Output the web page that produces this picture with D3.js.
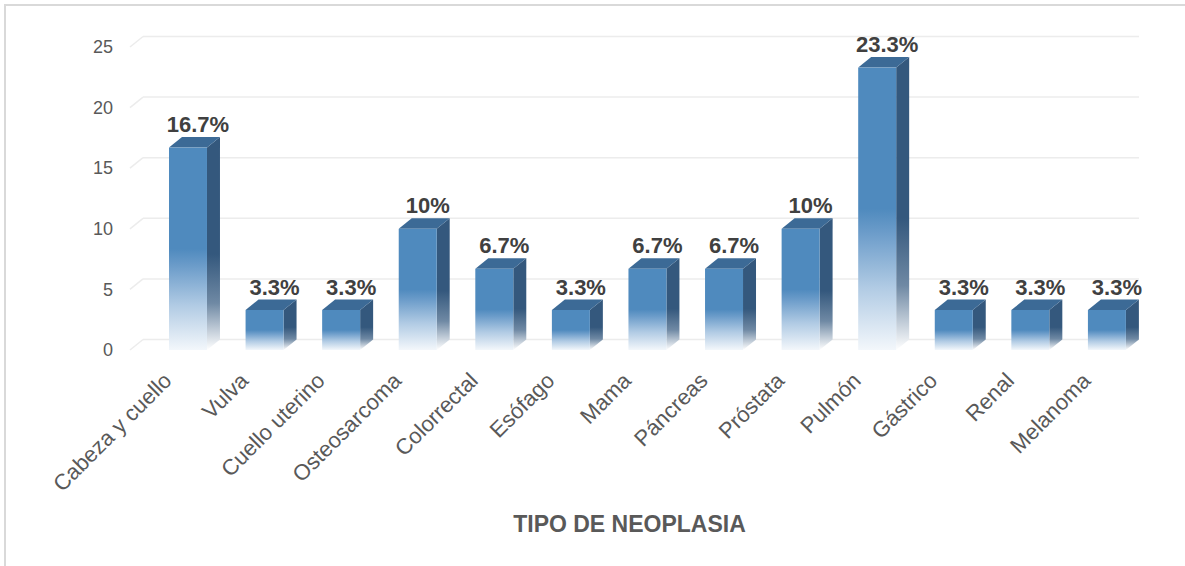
<!DOCTYPE html>
<html>
<head>
<meta charset="utf-8">
<script src="https://cdn.jsdelivr.net/npm/d3@7"></script>
<style>
  html, body { margin: 0; padding: 0; background: #fff; }
  svg { display: block; font-family: "Liberation Sans", Arial, sans-serif; }
</style>
</head>
<body>
<svg id="chart" width="1185" height="566"></svg>
<script>
const categories = ["Cabeza y cuello","Vulva","Cuello uterino","Osteosarcoma","Colorrectal","Esófago","Mama","Páncreas","Próstata","Pulmón","Gástrico","Renal","Melanoma"];
const values = [16.7, 3.3, 3.3, 10, 6.7, 3.3, 6.7, 6.7, 10, 23.3, 3.3, 3.3, 3.3];
const valueLabels = ["16.7%","3.3%","3.3%","10%","6.7%","3.3%","6.7%","6.7%","10%","23.3%","3.3%","3.3%","3.3%"];
const yTicks = [0, 5, 10, 15, 20, 25];
const axisTitle = "TIPO DE NEOPLASIA";

const svg = d3.select("#chart");
const DX = 13, DY = 10.5;

// outer border
svg.append("rect").attr("x", 5).attr("y", 5).attr("width", 1200).attr("height", 600)
  .attr("fill", "#fff").attr("stroke", "#d9d9d9").attr("stroke-width", 2);

const defs = svg.append("defs");
const gFront = defs.append("linearGradient").attr("id", "gFront").attr("x1", 0).attr("y1", 0).attr("x2", 0).attr("y2", 1);
[[0, "#4f8abe"], [0.5, "#4f8abe"], [0.58, "#6a9bc9"], [0.78, "#b1cbe4"], [1, "#f3f7fb"]]
  .forEach(([o, c]) => gFront.append("stop").attr("offset", o).attr("stop-color", c));
const gSide = defs.append("linearGradient").attr("id", "gSide").attr("x1", 0).attr("y1", 0).attr("x2", 0).attr("y2", 1);
[[0, "#34587d"], [0.55, "#34587d"], [0.78, "#6f89a4"], [1, "#ffffff"]]
  .forEach(([o, c]) => gSide.append("stop").attr("offset", o).attr("stop-color", c));

const x = d3.scaleBand().domain(categories).range([149.7, 1145.2]).paddingInner(0.504).paddingOuter(0.252);
const y = d3.scaleLinear().domain([0, 25]).range([350, 47]);

// gridlines (back plane) with perspective floor diagonal
const grid = svg.append("g");
yTicks.forEach(t => {
  const yf = y(t), yb = y(t) - DY;
  grid.append("line").attr("x1", 130).attr("y1", yf).attr("x2", 143).attr("y2", yb)
    .attr("stroke", "#ececec").attr("stroke-width", 1.5);
  grid.append("line").attr("x1", 143).attr("y1", yb).attr("x2", 1139).attr("y2", yb)
    .attr("stroke", "#ececec").attr("stroke-width", 1.5);
});

// y axis labels
const yAxis = d3.axisLeft(y).tickValues(yTicks).tickSize(0).tickPadding(0);
const ya = svg.append("g").attr("transform", "translate(113,0)").call(yAxis);
ya.select(".domain").remove();
ya.selectAll("text").attr("font-size", 18).attr("fill", "#595959")
  .attr("font-family", "'Liberation Sans', Arial, sans-serif");

// bars
const bw = x.bandwidth();
const bars = svg.append("g").selectAll("g").data(categories).join("g");
bars.each(function(c, i) {
  const g = d3.select(this);
  const x0 = x(c), x1 = x0 + bw;
  const yt = y(values[i]), y0 = y(0);
  g.append("polygon")
    .attr("points", [[x1, yt], [x1 + DX, yt - DY], [x1 + DX, y0 - DY], [x1, y0]].map(p => p.join(",")).join(" "))
    .attr("fill", "url(#gSide)");
  g.append("polygon")
    .attr("points", [[x0, yt], [x0 + DX, yt - DY], [x1 + DX, yt - DY], [x1, yt]].map(p => p.join(",")).join(" "))
    .attr("fill", "#3c6a96");
  g.append("rect").attr("x", x0).attr("y", yt).attr("width", bw).attr("height", y0 - yt)
    .attr("fill", "url(#gFront)");
  g.append("text").attr("x", x0 + bw / 2 + 10).attr("y", yt - DY - 5)
    .attr("text-anchor", "middle").attr("font-size", 22).attr("font-weight", "bold")
    .attr("fill", "#404040").text(valueLabels[i]);
});

// category labels (rotated)
const cat = svg.append("g");
categories.forEach(c => {
  const cx = x(c) + bw / 2;
  cat.append("text")
    .attr("transform", `translate(${cx - 15},382) rotate(-45)`)
    .attr("text-anchor", "end").attr("font-size", 22).attr("fill", "#595959")
    .text(c);
});

// axis title
svg.append("text").attr("x", 629.5).attr("y", 532).attr("text-anchor", "middle")
  .attr("font-size", 23).attr("font-weight", "bold").attr("fill", "#595959").text(axisTitle);
</script>
</body>
</html>
